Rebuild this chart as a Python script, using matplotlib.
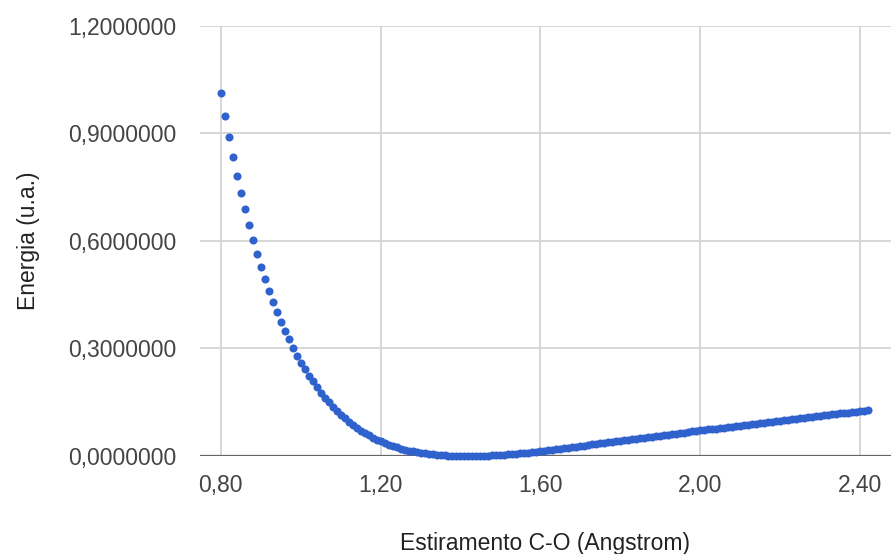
import matplotlib
matplotlib.use("Agg")
import matplotlib.pyplot as plt
from matplotlib.ticker import FixedLocator, FixedFormatter

# ---- data (bond length in Angstrom, energy in a.u.) ----
distance = [
    0.80, 0.81, 0.82, 0.83, 0.84, 0.85, 0.86, 0.87, 0.88, 0.89,
    0.90, 0.91, 0.92, 0.93, 0.94, 0.95, 0.96, 0.97, 0.98, 0.99,
    1.00, 1.01, 1.02, 1.03, 1.04, 1.05, 1.06, 1.07, 1.08, 1.09,
    1.10, 1.11, 1.12, 1.13, 1.14, 1.15, 1.16, 1.17, 1.18, 1.19,
    1.20, 1.21, 1.22, 1.23, 1.24, 1.25, 1.26, 1.27, 1.28, 1.29,
    1.30, 1.31, 1.32, 1.33, 1.34, 1.35, 1.36, 1.37, 1.38, 1.39,
    1.40, 1.41, 1.42, 1.43, 1.44, 1.45, 1.46, 1.47, 1.48, 1.49,
    1.50, 1.51, 1.52, 1.53, 1.54, 1.55, 1.56, 1.57, 1.58, 1.59,
    1.60, 1.61, 1.62, 1.63, 1.64, 1.65, 1.66, 1.67, 1.68, 1.69,
    1.70, 1.71, 1.72, 1.73, 1.74, 1.75, 1.76, 1.77, 1.78, 1.79,
    1.80, 1.81, 1.82, 1.83, 1.84, 1.85, 1.86, 1.87, 1.88, 1.89,
    1.90, 1.91, 1.92, 1.93, 1.94, 1.95, 1.96, 1.97, 1.98, 1.99,
    2.00, 2.01, 2.02, 2.03, 2.04, 2.05, 2.06, 2.07, 2.08, 2.09,
    2.10, 2.11, 2.12, 2.13, 2.14, 2.15, 2.16, 2.17, 2.18, 2.19,
    2.20, 2.21, 2.22, 2.23, 2.24, 2.25, 2.26, 2.27, 2.28, 2.29,
    2.30, 2.31, 2.32, 2.33, 2.34, 2.35, 2.36, 2.37, 2.38, 2.39,
    2.40, 2.41, 2.42,
]
energy = [
    1.011, 0.949, 0.890, 0.834, 0.781, 0.733, 0.688, 0.644, 0.602, 0.564,
    0.528, 0.493, 0.461, 0.430, 0.401, 0.374, 0.349, 0.325, 0.302, 0.280,
    0.260, 0.242, 0.224, 0.208, 0.192, 0.1765, 0.1625, 0.1494, 0.1370, 0.1255,
    0.1148, 0.1047, 0.0953, 0.0866, 0.0785, 0.0709, 0.0639, 0.0574, 0.0514, 0.0459,
    0.0408, 0.0360, 0.0317, 0.0278, 0.0242, 0.0209, 0.0179, 0.0152, 0.0128, 0.0106,
    0.0087, 0.0070, 0.0056, 0.0043, 0.0032, 0.0023, 0.0016, 0.0010, 0.0005, 0.0002,
    0.0001, 0.0000, 0.0000, 0.0001, 0.0003, 0.0006, 0.0009, 0.0013, 0.0018, 0.0024,
    0.0030, 0.0037, 0.0045, 0.0053, 0.0062, 0.0072, 0.0083, 0.0094, 0.0106, 0.0119,
    0.0132, 0.0147, 0.0161, 0.0176, 0.0190, 0.0205, 0.0219, 0.0234, 0.0248, 0.0263,
    0.0277, 0.0292, 0.0306, 0.0321, 0.0335, 0.0350, 0.0364, 0.0379, 0.0393, 0.0408,
    0.0422, 0.0437, 0.0451, 0.0466, 0.0480, 0.0495, 0.0509, 0.0524, 0.0538, 0.0553,
    0.0567, 0.0582, 0.0596, 0.0611, 0.0625, 0.0640, 0.0654, 0.0669, 0.0683, 0.0698,
    0.0712, 0.0726, 0.0739, 0.0753, 0.0766, 0.0780, 0.0793, 0.0807, 0.0820, 0.0834,
    0.0847, 0.0861, 0.0874, 0.0888, 0.0901, 0.0915, 0.0928, 0.0942, 0.0955, 0.0969,
    0.0982, 0.0996, 0.1009, 0.1023, 0.1036, 0.1050, 0.1063, 0.1077, 0.1090, 0.1104,
    0.1117, 0.1131, 0.1144, 0.1158, 0.1171, 0.1185, 0.1198, 0.1212, 0.1225, 0.1239,
    0.1252, 0.1266, 0.1279,
]

x_ticks = [0.80, 1.20, 1.60, 2.00, 2.40]
x_tick_labels = ["0,80", "1,20", "1,60", "2,00", "2,40"]
y_ticks = [0.0, 0.3, 0.6, 0.9, 1.2]
y_tick_labels = ["0,0000000", "0,3000000", "0,6000000", "0,9000000", "1,2000000"]
x_title = "Estiramento C-O (Angstrom)"
y_title = "Energia (u.a.)"

plt.rcParams["font.family"] = ["Liberation Sans", "DejaVu Sans"]

W, H = 891, 554
fig = plt.figure(figsize=(W / 100, H / 100), dpi=100)
left_px, right_px, top_px, bottom_px = 200, 891, 25.5, 456
ax = fig.add_axes([left_px / W, 1 - bottom_px / H,
                   (right_px - left_px) / W, (bottom_px - top_px) / H])

ax.set_xlim(0.748, 2.4776)
ax.set_ylim(0.0, 1.2)

ax.plot(distance, energy, linestyle="none", marker="o", markersize=5.8,
        markeredgewidth=0, color="#2f62cc", clip_on=False, zorder=5)

for s in ax.spines.values():
    s.set_visible(False)
ax.axhline(0, color="#666666", linewidth=1.6, zorder=3)

ax.xaxis.set_major_locator(FixedLocator(x_ticks))
ax.xaxis.set_major_formatter(FixedFormatter(x_tick_labels))
ax.yaxis.set_major_locator(FixedLocator(y_ticks))
ax.yaxis.set_major_formatter(FixedFormatter(y_tick_labels))
ax.grid(True, color="#d4d4d4", linewidth=1.3, zorder=0)
ax.set_axisbelow(True)
ax.tick_params(axis="both", length=0, labelsize=16.5, colors="#444444")
ax.tick_params(axis="x", pad=13)
ax.tick_params(axis="y", pad=17)

ax.set_xlabel(x_title, fontsize=16.5, color="#222222", labelpad=25)
ax.set_ylabel(y_title, fontsize=16.5, color="#222222", labelpad=20)

fig.savefig("out.png", dpi=100)
